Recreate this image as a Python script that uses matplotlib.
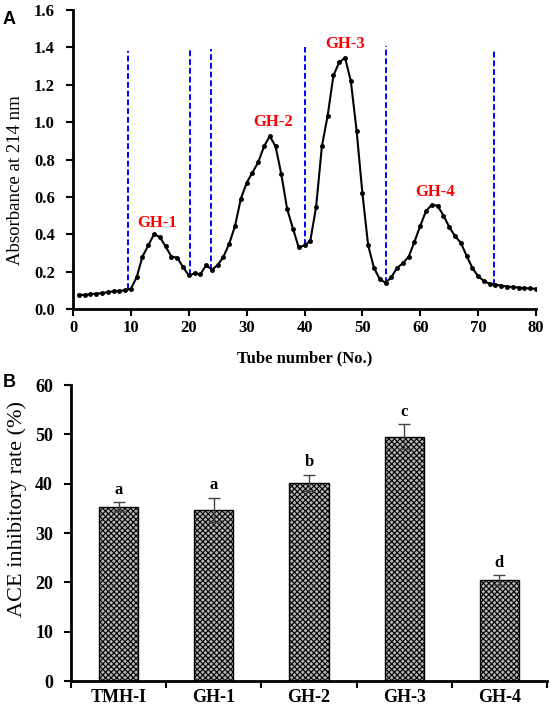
import matplotlib
matplotlib.use('Agg')
import matplotlib.pyplot as plt
import numpy as np

# elution profile (panel A)
tubes = np.arange(1, 81)
absorb = [0.077, 0.075, 0.080, 0.082, 0.085, 0.090, 0.095, 0.097, 0.100, 0.108,
          0.170, 0.280, 0.340, 0.400, 0.385, 0.335, 0.280, 0.275, 0.225, 0.180,
          0.190, 0.185, 0.235, 0.210, 0.235, 0.280, 0.350, 0.445, 0.590, 0.675,
          0.730, 0.785, 0.870, 0.925, 0.870, 0.720, 0.535, 0.430, 0.330, 0.340,
          0.365, 0.545, 0.870, 1.035, 1.250, 1.320, 1.345, 1.220, 0.955, 0.620,
          0.340, 0.220, 0.160, 0.140, 0.170, 0.220, 0.245, 0.280, 0.360, 0.445,
          0.525, 0.557, 0.553, 0.500, 0.440, 0.390, 0.355, 0.285, 0.220, 0.175,
          0.150, 0.135, 0.130, 0.125, 0.120, 0.118, 0.115, 0.112, 0.110, 0.108]
cut_x = [9.5, 20.2, 23.9, 40.0, 54.1, 72.7]
cut_bottom = [0.105, 0.18, 0.21, 0.34, 0.14, 0.13]
cut_top = [1.38, 1.39, 1.39, 1.40, 1.41, 1.39]
peak_names = ['GH-1', 'GH-2', 'GH-3', 'GH-4']
peak_x = [14.5, 34.5, 47.0, 62.5]
peak_y = [0.46, 1.0, 1.42, 0.625]

# ACE inhibition (panel B)
samples = ['TMH-I', 'GH-1', 'GH-2', 'GH-3', 'GH-4']
ace = [35.3, 34.7, 40.2, 49.5, 20.4]
ace_err = [0.9, 2.4, 1.6, 2.5, 1.0]
groups = ['a', 'a', 'b', 'c', 'd']

serif = 'Liberation Serif'
plt.rcParams['hatch.color'] = '#4a4a4a'
plt.rcParams['hatch.linewidth'] = 0.8

fig = plt.figure(figsize=(5.51, 7.10), dpi=100)

# ---- panel A ----
ax1 = fig.add_axes([0.1325, 0.5648, 0.8403, 0.4211])
ax1.plot(tubes, absorb, color='black', lw=1.5, marker='o', ms=2.5, zorder=3)
ax1.vlines(cut_x, cut_bottom, cut_top, colors='#0000ff', linestyles=(0, (3, 1.5)), lw=1.4, zorder=2)
for name, x, y in zip(peak_names, peak_x, peak_y):
    ax1.text(x, y, name, color='#ff0000', fontsize=12, fontweight='bold',
             family=serif, ha='center', va='center')
ax1.set_xlim(0, 80)
ax1.set_ylim(0, 1.6)
ax1.set_xticks(np.arange(0, 81, 10))
ax1.set_yticks(np.arange(0, 1.61, 0.2))
ax1.set_yticklabels(['%.1f' % v for v in np.arange(0, 1.61, 0.2)])
ax1.set_xlabel('Tube number (No.)', fontsize=12, fontweight='bold', family=serif, labelpad=10)
ax1.set_ylabel('Absorbance at 214 nm', fontsize=13.5, family=serif)
ax1.yaxis.set_label_coords(-0.105, 0.43)

# ---- panel B ----
ax2 = fig.add_axes([0.1289, 0.0408, 0.8638, 0.4169])
pos = np.arange(len(samples))
ax2.bar(pos, ace, width=0.41, color='#b4b4b4', edgecolor='black', lw=1.0, hatch='xxxxxx', zorder=2)
ax2.errorbar(pos, ace, yerr=ace_err, fmt='none', ecolor='#444444', elinewidth=1.0,
             capsize=4, capthick=1.0, zorder=3)
for p, m, e, g in zip(pos, ace, ace_err, groups):
    ax2.text(p, m + e + 2.6, g, fontsize=12, fontweight='bold', family=serif,
             ha='center', va='center')
ax2.set_xlim(-0.5, 4.5)
ax2.set_ylim(0, 60)
ax2.set_xticks(pos)
ax2.set_xticklabels(samples)
ax2.set_xticks(np.arange(-0.5, 4.6, 1), minor=True)
ax2.tick_params(axis='x', which='minor', length=5, width=1.5, direction='out')
ax2.set_yticks(np.arange(0, 61, 10))
ax2.set_ylabel('ACE inhibitory rate (%)', fontsize=16, family=serif)
ax2.yaxis.set_label_coords(-0.093, 0.58)

for ax, fs in ((ax1, 12), (ax2, 13)):
    for s in ('top', 'right'):
        ax.spines[s].set_visible(False)
    for s in ('left', 'bottom'):
        ax.spines[s].set_linewidth(2)
    ax.tick_params(which='major', length=5, width=1.5, direction='out', labelsize=fs, pad=3)
    ax.tick_params(axis='y', pad=8)
    for lab in ax.get_xticklabels() + ax.get_yticklabels():
        lab.set_family(serif)
        lab.set_fontweight('bold')
ax2.tick_params(axis='x', which='major', length=0, pad=6)

fig.text(0.005, 0.985, 'A', fontsize=13, fontweight='bold', family='Liberation Sans', va='top')
fig.text(0.005, 0.473, 'B', fontsize=13, fontweight='bold', family='Liberation Sans', va='top')

fig.savefig('out.png', dpi=100)
